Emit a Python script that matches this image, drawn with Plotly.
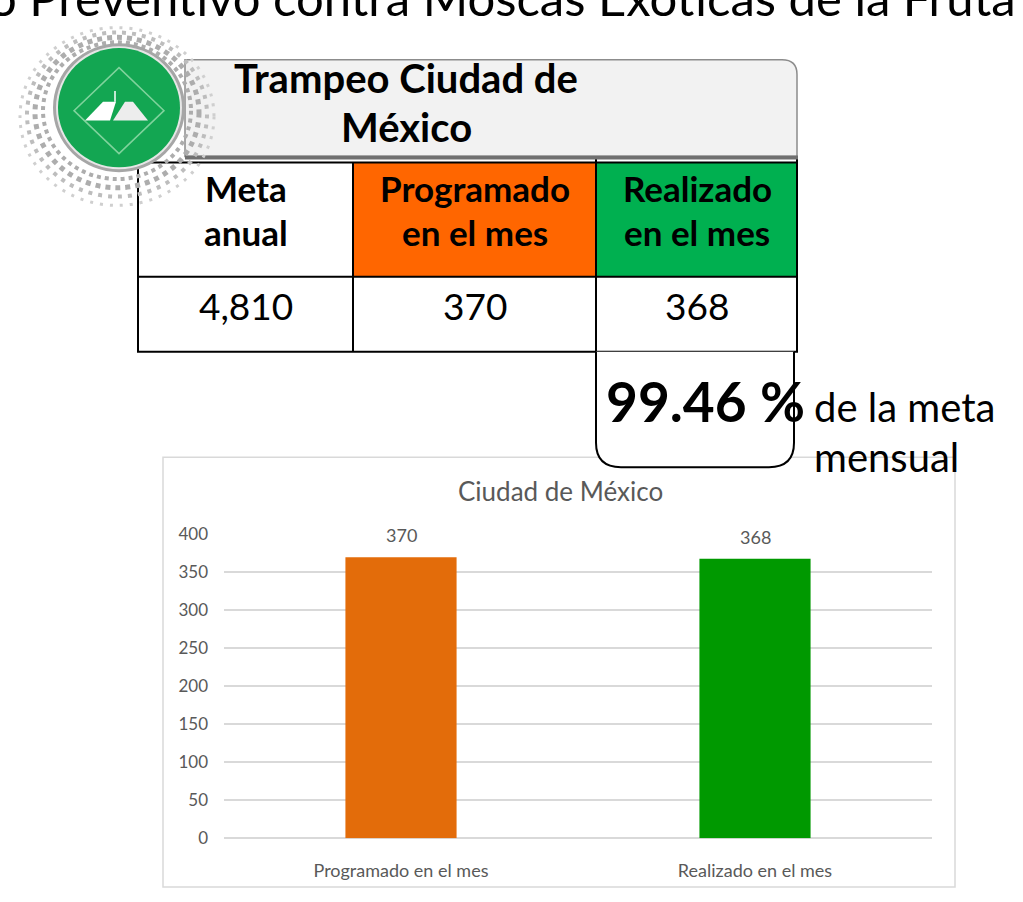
import plotly.graph_objects as go

W, H = 1023, 902

# ---- data ----
categories = ["Programado en el mes", "Realizado en el mes"]
values = [370, 368]
bar_colors = ["#E36C0A", "#009900"]
y_tick_vals = [0, 50, 100, 150, 200, 250, 300, 350, 400]
chart_title = "Ciudad de México"
slide_title = "o Preventivo contra Moscas Exóticas de la Fruta"
box_title_lines = ["Trampeo Ciudad de", "México"]
table_header_lines = [["Meta", "anual"], ["Programado", "en el mes"], ["Realizado", "en el mes"]]
table_values = ["4,810", "370", "368"]
percent_text = "99.46 %"
percent_caption = ["de la meta", "mensual"]

FONT = "Lato"
GRAY_TXT = "#595959"


def px(x):
    return x / W


def py(y):
    return 1 - y / H


def path(points, close=True):
    s = ""
    for i, p in enumerate(points):
        if p[0] == "Q":
            s += f" Q {px(p[1])},{py(p[2])} {px(p[3])},{py(p[4])}"
        else:
            s += (" M " if i == 0 else " L ") + f"{px(p[0])},{py(p[1])}"
    if close:
        s += " Z"
    return s.strip()


shapes = []


def rect(x0, y0, x1, y1, fill=None, line_color=None, lw=0, layer="above"):
    shapes.append(dict(type="rect", xref="paper", yref="paper",
                       x0=px(x0), x1=px(x1), y0=py(y1), y1=py(y0),
                       fillcolor=fill if fill else "rgba(0,0,0,0)",
                       line=dict(color=line_color if line_color else "rgba(0,0,0,0)", width=lw),
                       layer=layer))


def line(x0, y0, x1, y1, color="black", lw=2, dash="solid"):
    shapes.append(dict(type="line", xref="paper", yref="paper",
                       x0=px(x0), x1=px(x1), y0=py(y0), y1=py(y1),
                       line=dict(color=color, width=lw, dash=dash), layer="above"))


def circle(cx, cy, rx, ry, fill=None, line_color=None, lw=0, dash="solid"):
    shapes.append(dict(type="circle", xref="paper", yref="paper",
                       x0=px(cx - rx), x1=px(cx + rx), y0=py(cy + ry), y1=py(cy - ry),
                       fillcolor=fill if fill else "rgba(0,0,0,0)",
                       line=dict(color=line_color if line_color else "rgba(0,0,0,0)", width=lw, dash=dash),
                       layer="above"))


def poly(points, fill=None, line_color=None, lw=0, close=True):
    shapes.append(dict(type="path", xref="paper", yref="paper", path=path(points, close),
                       fillcolor=fill if fill else "rgba(0,0,0,0)",
                       line=dict(color=line_color if line_color else "rgba(0,0,0,0)", width=lw),
                       layer="above"))


# chart frame
rect(163, 457, 955, 897, fill="white", line_color="#D9D9D9", lw=1.5, layer="below")

# table cells
rect(353, 155, 596, 272, fill="#FF6600")
rect(596, 155, 797, 272, fill="#00B050")
rect(138, 155, 797, 349, line_color="black", lw=2)
line(353, 155, 353, 349)
line(596, 150, 596, 349)
line(797, 150, 797, 349)
line(138, 272, 797, 272)

# header box with shadow
poly([(185, 50), (782, 50), ("Q", 797, 50, 797, 65), (797, 149), (185, 149)],
     fill="#F2F2F2", line_color="#8C8C8C", lw=1.5)
line(185, 150, 798, 150, color="#707070", lw=4)

# percentage rounded box
poly([(596, 349), (596, 442), ("Q", 596, 467, 621, 467), (769, 467),
      ("Q", 794, 467, 794, 442), (794, 349)], fill="white", line_color="black", lw=2, close=False)

# logo halo (dotted rings)
halo = [(97, 91, 3, "3px,7px", "#CFCFCF", 108), (90, 84, 4, "4px,6px", "#BDBDBD", 106),
        (82, 77, 5, "5px,5px", "#ADADAD", 104), (74, 70, 4, "4px,4px", "#ADADAD", 102)]
for rx, ry, lw, dash, col, cy in halo:
    circle(117, cy, rx, ry, line_color=col, lw=lw, dash=dash)
# logo disc
circle(119, 99, 66, 66, fill="#A6A6A6")
circle(119, 99, 63, 63, fill="#E6E6E6")
circle(119, 99, 61, 61, fill="#13A652")
poly([(119, 58), (164, 102), (119, 146), (74, 102)], line_color="#7FD39C", lw=1.5)
poly([(85, 112), (103, 93), (116, 93), (110, 112)], fill="white")
poly([(113, 112), (125, 93), (133, 93), (148, 112)], fill="#EDEDED")
line(115, 82, 115, 93, color="white", lw=1.5)

annotations = []


def text(x, baseline, t, size, color="black", bold=False, xanchor="center", family=FONT):
    # position by baseline: box centre sits ~0.535em above the baseline for Lato
    y = baseline - 0.535 * size
    annotations.append(dict(xref="paper", yref="paper", x=px(x), y=py(y),
                            text=f"<b>{t}</b>" if bold else t, showarrow=False,
                            xanchor=xanchor, yanchor="middle",
                            font=dict(family=family, size=size, color=color)))


text(1018, 12, slide_title, 49, xanchor="right")
text(406, 90, box_title_lines[0], 40, bold=True)
text(406, 140, box_title_lines[1], 40, bold=True)
col_centers = [246, 475, 697]
for cx, lines_, val in zip(col_centers, table_header_lines, table_values):
    text(cx, 200, lines_[0], 35, bold=True)
    text(cx, 245, lines_[1], 35, bold=True)
    text(cx, 321, val, 37)
text(705, 429, percent_text, 55, bold=True)
text(812, 427, percent_caption[0], 40, xanchor="left")
text(812, 478, percent_caption[1], 40, xanchor="left")
text(560, 505, chart_title, 26, color=GRAY_TXT)

# data labels from data
for c, v in zip(categories, values):
    annotations.append(dict(x=c, y=v, xref="x", yref="y", text=str(v), showarrow=False,
                            yshift=22, yanchor="middle",
                            font=dict(family=FONT, size=18, color=GRAY_TXT)))

fig = go.Figure(go.Bar(x=categories, y=values, marker=dict(color=bar_colors, line=dict(width=0)),
                       width=0.314, hoverinfo="x+y"))

fig.update_layout(
    width=W, height=H, autosize=False,
    margin=dict(l=0, r=0, t=0, b=0, pad=0),
    paper_bgcolor="white", plot_bgcolor="rgba(0,0,0,0)",
    showlegend=False,
    font=dict(family=FONT, color=GRAY_TXT),
    xaxis=dict(domain=[px(224), px(932)], showgrid=False, showline=False, zeroline=False,
               ticks="", tickfont=dict(family=FONT, size=18, color=GRAY_TXT),
               ticklabelstandoff=20, fixedrange=True),
    yaxis=dict(domain=[py(847), py(536)], range=[0, 400], tickvals=y_tick_vals,
               showgrid=True, gridcolor="#D9D9D9", gridwidth=1.5,
               zeroline=True, zerolinecolor="#D9D9D9", zerolinewidth=1.5,
               showline=False, ticks="", tickfont=dict(family=FONT, size=17, color=GRAY_TXT),
               ticklabelstandoff=15, fixedrange=True),
    shapes=shapes,
    annotations=annotations,
)

fig.write_html("out.html", config={"displayModeBar": False},
               post_script="document.body.style.margin='0';")
